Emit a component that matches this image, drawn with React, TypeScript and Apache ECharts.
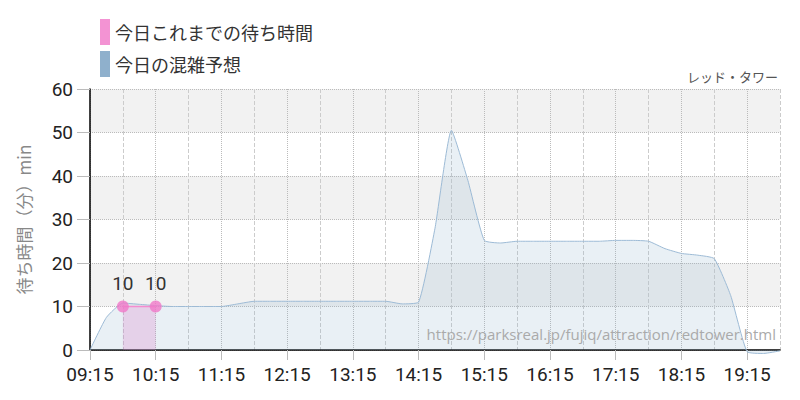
import React, { useEffect, useRef } from "react";
import * as echarts from "echarts";

const times = [
  "09:15", "09:30", "09:45", "10:00", "10:15", "10:30", "10:45", "11:00", "11:15", "11:30", "11:45",
  "12:00", "12:15", "12:30", "12:45", "13:00", "13:15", "13:30", "13:45", "14:00", "14:15", "14:30",
  "14:45", "15:00", "15:15", "15:30", "15:45", "16:00", "16:15", "16:30", "16:45", "17:00", "17:15",
  "17:30", "17:45", "18:00", "18:15", "18:30", "18:45", "19:00", "19:15", "19:30", "19:45",
];

const forecast = [
  0, 7.5, 10.8, 10.5, 10.2, 10, 10, 10, 10, 10.6, 11.2,
  11.2, 11.2, 11.2, 11.2, 11.2, 11.2, 11.2, 11.2, 10.6, 11, 28,
  50.5, 39, 25.2, 24.6, 25, 25, 25, 25, 25, 25, 25.2,
  25.2, 25, 23.3, 22.2, 21.8, 21, 12.5, -0.4, -0.8, -0.2,
];

const actual: (number | null)[] = [
  null, null, 10, null, 10, null, null, null, null, null, null,
  null, null, null, null, null, null, null, null, null, null, null,
  null, null, null, null, null, null, null, null, null, null, null,
  null, null, null, null, null, null, null, null, null, null,
];

const yTicks = [0, 10, 20, 30, 40, 50, 60];

const seriesNames = ["今日これまでの待ち時間", "今日の混雑予想"];
const attractionName = "レッド・タワー";
const sourceUrl = "https://parksreal.jp/fujiq/attraction/redtower.html";
const yAxisTitle = "待ち時間（分）min";

const numFont = "'Roboto', sans-serif";
const jpFont = "'Noto Sans CJK JP', 'Noto Sans', sans-serif";

export default function App() {
  const ref = useRef<HTMLDivElement>(null);
  useEffect(() => {
    if (!ref.current) return;
    const chart = echarts.init(ref.current, null, { renderer: "svg" });
    chart.setOption({
      animation: false,
      backgroundColor: "#ffffff",
      legend: {
        orient: "vertical",
        left: 95,
        top: 14,
        itemWidth: 10,
        itemHeight: 26,
        itemGap: 6,
        icon: "rect",
        data: seriesNames,
        textStyle: { fontSize: 18, color: "#333", fontFamily: jpFont },
      },
      grid: { left: 90, right: 20, top: 89, bottom: 50 },
      xAxis: [
        {
          type: "category",
          data: times,
          boundaryGap: false,
          axisLine: { lineStyle: { color: "#000", width: 1.5 }, onZero: false },
          axisTick: { show: true, interval: 3, length: 10, lineStyle: { color: "#bbb" } },
          axisLabel: { interval: 3, fontSize: 19, color: "#222", margin: 15, fontFamily: numFont },
          splitLine: { show: true, interval: 3, lineStyle: { type: "dotted", color: "#bbb" } },
        },
        {
          type: "category",
          data: times,
          boundaryGap: false,
          position: "bottom",
          axisLine: { show: false },
          axisTick: { show: false },
          axisLabel: { show: false },
          splitLine: {
            show: true,
            interval: (i: number) => i % 4 === 2,
            lineStyle: { type: "dashed", color: "#ccc" },
          },
        },
      ],
      yAxis: {
        type: "value",
        min: yTicks[0],
        max: yTicks[yTicks.length - 1],
        interval: 10,
        name: yAxisTitle,
        nameLocation: "middle",
        nameRotate: 90,
        nameGap: 58,
        nameTextStyle: { fontSize: 17, color: "#888", fontFamily: jpFont },
        axisLine: { show: true, lineStyle: { color: "#000", width: 1.5 } },
        axisTick: { show: true, length: 13, lineStyle: { color: "#bbb" } },
        axisLabel: { fontSize: 19, color: "#222", margin: 17, fontFamily: numFont },
        splitLine: { lineStyle: { type: "dotted", color: "#bbb" } },
        splitArea: { show: true, areaStyle: { color: ["#ffffff", "#f2f2f2"] } },
      },
      series: [
        {
          name: seriesNames[1],
          type: "line",
          data: forecast,
          smooth: 0.15,
          clip: false,
          symbol: "none",
          color: "#8fb0cc",
          lineStyle: { width: 1, color: "#9dbbd6" },
          areaStyle: { color: "rgba(143,176,204,0.28)" },
          z: 2,
        },
        {
          name: seriesNames[0],
          type: "line",
          data: actual,
          connectNulls: true,
          showAllSymbol: true,
          symbol: "circle",
          symbolSize: 12,
          color: "#ff88cc",
          itemStyle: { color: "rgba(240,120,200,0.8)" },
          lineStyle: { width: 1.5, color: "#f58cd0" },
          areaStyle: { color: "rgba(220,130,200,0.4)" },
          label: {
            show: true,
            position: "top",
            distance: 8,
            fontSize: 19,
            color: "#333",
            fontFamily: numFont,
          },
          z: 3,
        },
      ],
      graphic: [
        {
          type: "text",
          right: 22,
          top: 70,
          style: { text: attractionName, fontSize: 13, fill: "#555", fontFamily: jpFont },
        },
        {
          type: "text",
          right: 24,
          top: 326,
          z: 10,
          style: { text: sourceUrl, fontSize: 15, fill: "#aaa", fontFamily: "'Open Sans', 'Noto Sans', sans-serif" },
        },
      ],
    });
    return () => chart.dispose();
  }, []);
  return <div ref={ref} style={{ position: "fixed", left: 0, top: 0, width: 800, height: 400 }} />;
}
